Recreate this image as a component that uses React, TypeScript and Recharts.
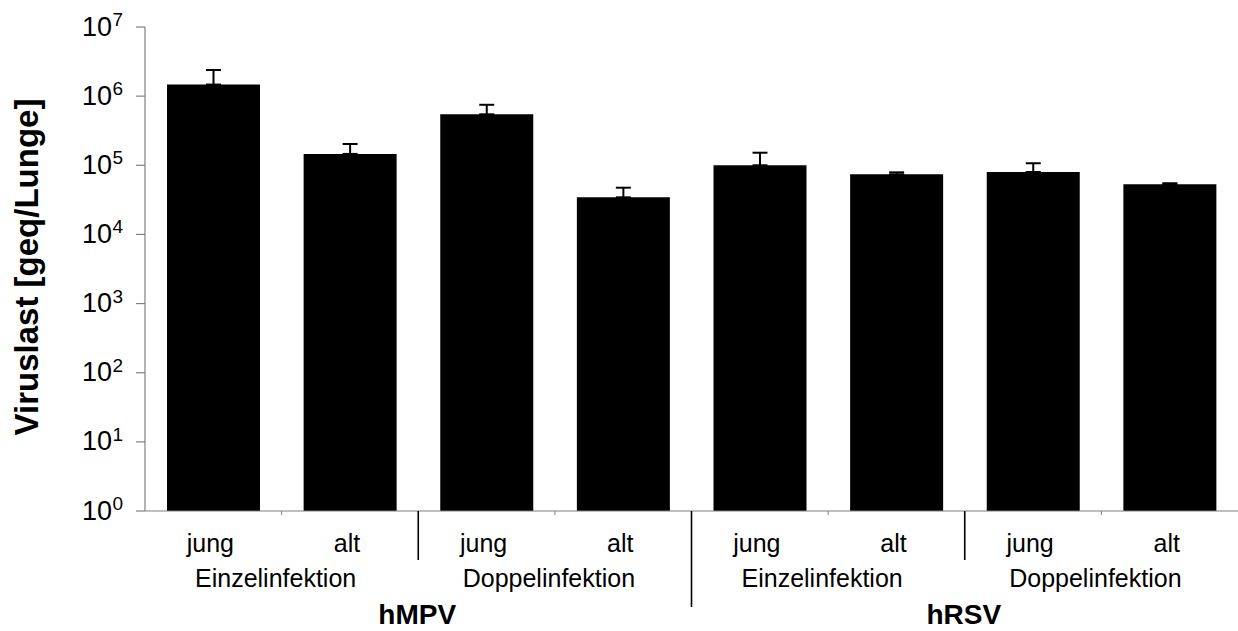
import React from "react";
import { BarChart, Bar, XAxis, YAxis, ErrorBar } from "recharts";

const categories = ["jung", "alt", "jung", "alt", "jung", "alt", "jung", "alt"];
const infections = ["Einzelinfektion", "Doppelinfektion", "Einzelinfektion", "Doppelinfektion"];
const viruses = ["hMPV", "hRSV"];
const means = [1.47e6, 1.46e5, 5.46e5, 3.44e4, 1.0e5, 7.4e4, 8.0e4, 5.3e4];
const errorTops = [2.39e6, 2.03e5, 7.5e5, 4.74e4, 1.52e5, 7.9e4, 1.07e5, 5.5e4];
const yTicks = [1, 10, 100, 1000, 10000, 100000, 1000000, 10000000];
const yExponents = ["0", "1", "2", "3", "4", "5", "6", "7"];

const data = categories.map((c, i) => ({
  id: "c" + i,
  label: c,
  value: means[i],
  err: [0, errorTops[i] - means[i]],
}));

const FONT = "'Liberation Sans', Arial, sans-serif";
const W = 1238;
const H = 631;
const LEFT = 145;
const BAND = (W - LEFT) / categories.length;

const YTick = (props: any) => {
  const { x, y, payload } = props;
  const idx = yTicks.indexOf(payload.value);
  return (
    <g>
      <text x={x - 24} y={y + 8.5} textAnchor="end" fontFamily={FONT} fontSize={27} fill="#000">
        10
      </text>
      <text x={x - 13} y={y - 1} textAnchor="end" fontFamily={FONT} fontSize={19} fill="#000">
        {yExponents[idx]}
      </text>
    </g>
  );
};

const XTick = (props: any) => {
  const { x, y, payload } = props;
  const i = data.findIndex((d) => d.id === payload.value);
  const els: any[] = [];
  els.push(
    <text key="l" x={x - 3} y={y + 41} textAnchor="middle" fontFamily={FONT} fontSize={25} fill="#000">
      {categories[i]}
    </text>
  );
  if (i % 2 === 1) {
    els.push(
      <text key="g" x={x - BAND / 2 - 6} y={y + 76} textAnchor="middle" fontFamily={FONT} fontSize={25} fill="#000">
        {infections[(i - 1) / 2]}
      </text>
    );
    els.push(<line key="t" x1={x - BAND / 2} x2={x - BAND / 2} y1={y} y2={y + 4} stroke="#808080" strokeWidth={1} />);
    if (i < categories.length - 1) {
      const long = i === 3;
      els.push(
        <line key="s" x1={x + BAND / 2} x2={x + BAND / 2} y1={y} y2={y + (long ? 96 : 49)} stroke="#000" strokeWidth={1.6} />
      );
    }
  }
  if (i % 4 === 3) {
    els.push(
      <text key="v" x={x - BAND * 1.5 - 1} y={y + 113} textAnchor="middle" fontFamily={FONT} fontSize={28} fontWeight="bold" fill="#000">
        {viruses[(i - 3) / 4]}
      </text>
    );
  }
  return <g>{els}</g>;
};

export default function App() {
  return (
    <div style={{ position: "absolute", left: 0, top: 0, width: W, height: H, background: "#fff" }}>
      <BarChart width={W} height={H} data={data} margin={{ top: 27, right: 0, bottom: 0, left: 0 }}>
        <XAxis
          dataKey="id"
          height={120}
          interval={0}
          tickLine={false}
          tickSize={0}
          tickMargin={0}
          axisLine={{ stroke: "#808080", strokeWidth: 1.2 }}
          tick={<XTick />}
        />
        <YAxis
          scale="log"
          domain={[1, 10000000]}
          ticks={yTicks}
          allowDataOverflow
          width={LEFT}
          tickSize={9}
          tickMargin={0}
          interval={0}
          axisLine={{ stroke: "#808080", strokeWidth: 1.2 }}
          tickLine={{ stroke: "#808080", strokeWidth: 1.2 }}
          tick={<YTick />}
        />
        <Bar dataKey="value" fill="#000" barSize={93} isAnimationActive={false}>
          <ErrorBar dataKey="err" direction="y" width={7.5} stroke="#000" strokeWidth={2} />
        </Bar>
      </BarChart>
      <svg width={60} height={H} style={{ position: "absolute", left: 0, top: 0 }}>
        <text
          x={0}
          y={0}
          transform="translate(38,267) rotate(-90)"
          textAnchor="middle"
          fontFamily={FONT}
          fontSize={33}
          fontWeight="bold"
          fill="#000"
        >
          Viruslast [geq/Lunge]
        </text>
      </svg>
    </div>
  );
}
